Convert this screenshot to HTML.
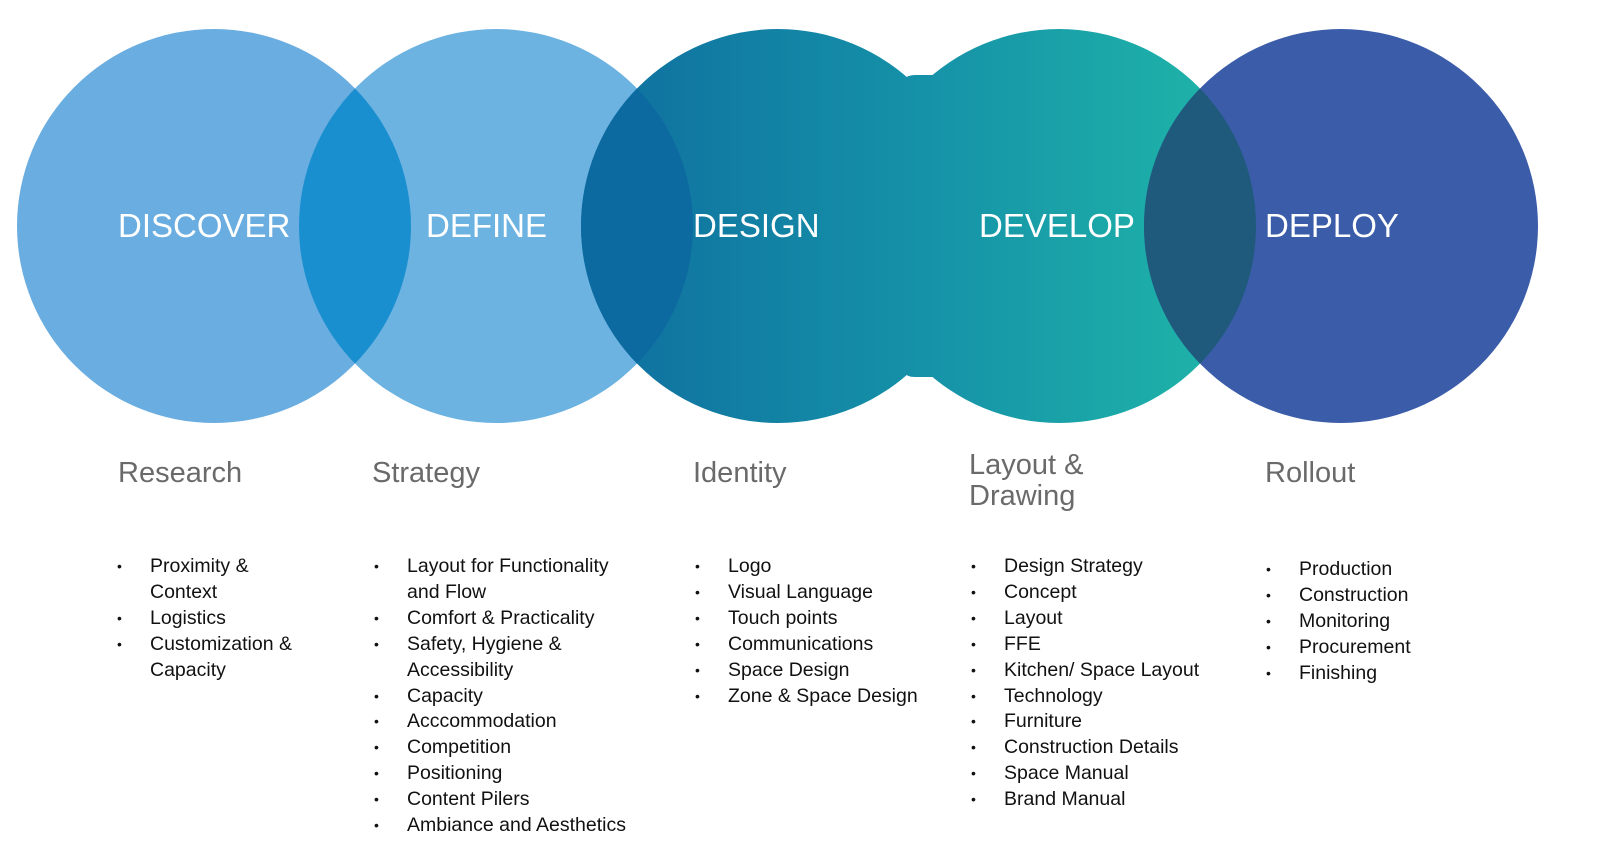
<!DOCTYPE html>
<html><head><meta charset="utf-8"><style>
body{margin:0;background:#fff;width:1600px;height:865px;overflow:hidden;position:relative;font-family:"Liberation Sans",sans-serif}
svg{position:absolute;left:0;top:0}
.h{position:absolute;color:#6a6a6a;font-size:29px;line-height:31px}
ul{position:absolute;margin:0;padding:0;list-style:none;font-size:19.5px;line-height:25.9px;color:#111}
li{position:relative;padding-left:33px}
li.b:before{content:"•";position:absolute;left:0;font-size:14px}
</style></head><body>
<svg width="1600" height="865">
<defs>
<linearGradient id="g" x1="581" y1="0" x2="1256" y2="0" gradientUnits="userSpaceOnUse">
<stop offset="0" stop-color="#0f6e9f"/><stop offset="0.5" stop-color="#1591a8"/><stop offset="1" stop-color="#20b8a8"/></linearGradient>
<clipPath id="c1"><circle cx="496" cy="226" r="197"/></clipPath>
<clipPath id="c2"><circle cx="1341" cy="226" r="197"/></clipPath>
<clipPath id="c0"><circle cx="214" cy="226" r="197"/></clipPath>
</defs>
<circle cx="214" cy="226" r="197" fill="#6aade0"/>
<circle cx="496" cy="226" r="197" fill="#6cb3e2"/>
<circle cx="496" cy="226" r="197" fill="#1a8fd0" clip-path="url(#c0)"/>
<g fill="url(#g)">
<circle cx="778" cy="226" r="197"/>
<circle cx="1059" cy="226" r="197"/>
<path d="M903,80 Q907,75 915,75 L945,75 Q952,75 958,68 L958,384 Q952,377 945,377 L915,377 Q907,377 903,372 Z"/>
</g>
<circle cx="778" cy="226" r="197" fill="#0c6aa0" clip-path="url(#c1)"/>
<circle cx="1341" cy="226" r="197" fill="#3b5da9"/>
<circle cx="1059" cy="226" r="197" fill="#1f5a7c" clip-path="url(#c2)"/>
<g fill="#fff" font-size="33" font-family="Liberation Sans, sans-serif">
<text x="118" y="237">DISCOVER</text>
<text x="426" y="237">DEFINE</text>
<text x="693" y="237">DESIGN</text>
<text x="979" y="237">DEVELOP</text>
<text x="1265" y="237">DEPLOY</text>
</g>
</svg>
<div class="h" style="left:118px;top:458px">Research</div>
<div class="h" style="left:372px;top:458px">Strategy</div>
<div class="h" style="left:693px;top:458px">Identity</div>
<div class="h" style="left:969px;top:450px">Layout &amp;<br>Drawing</div>
<div class="h" style="left:1265px;top:458px">Rollout</div>
<ul style="left:117px;top:554px;width:210px">
<li class="b">Proximity &amp;</li><li>Context</li><li class="b">Logistics</li><li class="b">Customization &amp;</li><li>Capacity</li></ul>
<ul style="left:374px;top:554px;width:280px">
<li class="b">Layout for Functionality</li><li>and Flow</li><li class="b">Comfort &amp; Practicality</li><li class="b">Safety, Hygiene &amp;</li><li>Accessibility</li><li class="b">Capacity</li><li class="b">Acccommodation</li><li class="b">Competition</li><li class="b">Positioning</li><li class="b">Content Pilers</li><li class="b">Ambiance and Aesthetics</li></ul>
<ul style="left:695px;top:554px;width:260px">
<li class="b">Logo</li><li class="b">Visual Language</li><li class="b">Touch points</li><li class="b">Communications</li><li class="b">Space Design</li><li class="b">Zone &amp; Space Design</li></ul>
<ul style="left:971px;top:554px;width:260px">
<li class="b">Design Strategy</li><li class="b">Concept</li><li class="b">Layout</li><li class="b">FFE</li><li class="b">Kitchen/ Space Layout</li><li class="b">Technology</li><li class="b">Furniture</li><li class="b">Construction Details</li><li class="b">Space Manual</li><li class="b">Brand Manual</li></ul>
<ul style="left:1266px;top:557px;width:220px">
<li class="b">Production</li><li class="b">Construction</li><li class="b">Monitoring</li><li class="b">Procurement</li><li class="b">Finishing</li></ul>
</body></html>
